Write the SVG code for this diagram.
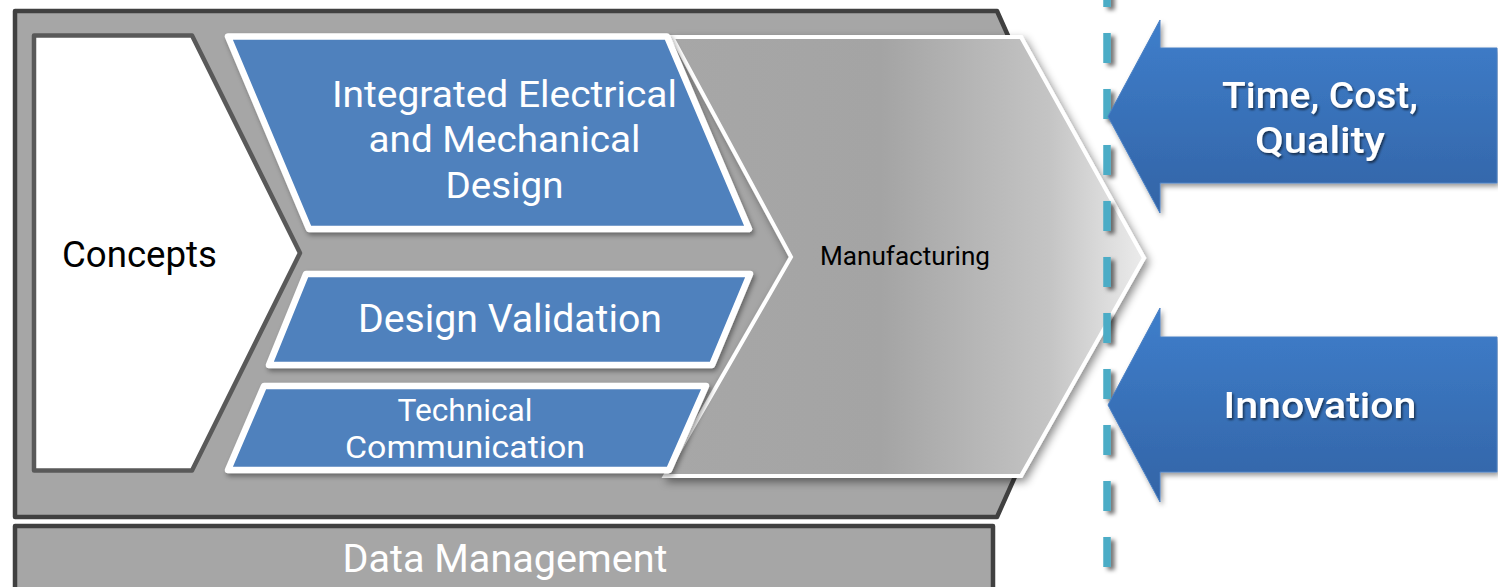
<svg xmlns="http://www.w3.org/2000/svg" width="1498" height="587" viewBox="0 0 1498 587">
  <defs>
    <linearGradient id="mfgGrad" x1="665" y1="0" x2="1145" y2="0" gradientUnits="userSpaceOnUse">
      <stop offset="0" stop-color="#a7a7a7"/>
      <stop offset="0.45" stop-color="#a4a4a4"/>
      <stop offset="0.8" stop-color="#c4c4c4"/>
      <stop offset="1" stop-color="#ececec"/>
    </linearGradient>
    <linearGradient id="arrowGrad" x1="0" y1="0" x2="0" y2="1">
      <stop offset="0" stop-color="#3e7ecb"/>
      <stop offset="1" stop-color="#3364a6"/>
    </linearGradient>
    <filter id="shadow" x="-10%" y="-10%" width="125%" height="130%">
      <feDropShadow dx="2" dy="3" stdDeviation="2.5" flood-color="#000" flood-opacity="0.4"/>
    </filter>
    <filter id="shadowBig" x="-10%" y="-10%" width="125%" height="130%">
      <feDropShadow dx="3" dy="4" stdDeviation="4" flood-color="#000" flood-opacity="0.45"/>
    </filter>
    <filter id="dashShadow" filterUnits="userSpaceOnUse" x="1090" y="-30" width="40" height="630">
      <feDropShadow dx="4" dy="3" stdDeviation="2" flood-color="#000" flood-opacity="0.55"/>
    </filter>
    <filter id="textShadow" x="-10%" y="-20%" width="120%" height="150%">
      <feDropShadow dx="1.5" dy="2" stdDeviation="1.2" flood-color="#000" flood-opacity="0.55"/>
    </filter>
    <style>
      .frame { fill: #a6a6a6; stroke: #404040; stroke-width: 4.5; stroke-linejoin: round; }
      .concept { fill: #ffffff; stroke: #595959; stroke-width: 4.5; stroke-linejoin: round; }
      .blue { fill: #4f81bd; stroke: #ffffff; stroke-width: 6.5; stroke-linejoin: round; filter: url(#shadow); }
      .mfg { fill: url(#mfgGrad); stroke: #ffffff; stroke-width: 4; stroke-linejoin: miter; filter: url(#shadowBig); }
      .arrow { fill: url(#arrowGrad); stroke: #4a80c4; stroke-width: 1; filter: url(#shadow); }
      .t { font-family: Roboto, "Open Sans", sans-serif; text-anchor: middle; }
      .w { fill: #ffffff; }
      .k { fill: #000000; }
      .bold { font-weight: 500; filter: url(#textShadow); }
    </style>
  </defs>

  <g id="frame">
    <polygon class="frame" points="15,11 997,11 1110,264 997,517 15,517"/>
  </g>

  <g id="data-management">
    <rect class="frame" x="15" y="526" width="978" height="80"/>
    <text class="t w" x="505" y="572" font-size="38" textLength="325" lengthAdjust="spacingAndGlyphs">Data Management</text>
  </g>

  <g id="concepts">
    <polygon class="concept" points="34,35.5 192,35.5 300,253 192,470.5 34,470.5"/>
    <text class="t k" x="139.5" y="267" font-size="37" textLength="155" lengthAdjust="spacingAndGlyphs">Concepts</text>
  </g>

  <g id="manufacturing">
    <polygon class="mfg" points="672,37 1021,37 1144,258 1021,476 665,476 791,257"/>
    <text class="t k" x="905" y="265" font-size="25" textLength="170" lengthAdjust="spacingAndGlyphs">Manufacturing</text>
  </g>

  <g id="integrated-design">
    <polygon class="blue" points="228,36.5 667,36.5 749,229 309,229"/>
    <text class="t w" x="504.5" y="107" font-size="37.5" textLength="345" lengthAdjust="spacingAndGlyphs">Integrated Electrical</text>
    <text class="t w" x="504.5" y="152" font-size="37.5" textLength="272" lengthAdjust="spacingAndGlyphs">and Mechanical</text>
    <text class="t w" x="504.5" y="198" font-size="37.5" textLength="118" lengthAdjust="spacingAndGlyphs">Design</text>
  </g>

  <g id="design-validation">
    <polygon class="blue" points="306,274 750,274 712,365 269,365"/>
    <text class="t w" x="510" y="332" font-size="38" textLength="304" lengthAdjust="spacingAndGlyphs">Design Validation</text>
  </g>

  <g id="technical-communication">
    <polygon class="blue" points="264,386 706,386 669,470 228,470"/>
    <text class="t w" x="465" y="421" font-size="31" textLength="135" lengthAdjust="spacingAndGlyphs">Technical</text>
    <text class="t w" x="465" y="458" font-size="31" textLength="240" lengthAdjust="spacingAndGlyphs">Communication</text>
  </g>

  <g id="connectors">
    <line x1="1107" y1="-23" x2="1107" y2="587" stroke="#4bacc6" stroke-width="7.5" stroke-dasharray="30 26" filter="url(#dashShadow)"/>
  </g>

  <g id="time-cost-quality">
    <polygon class="arrow" points="1108,116.5 1160,20 1160,48 1497,48 1497,183 1160,183 1160,213"/>
    <text class="t w bold" x="1320" y="108" font-size="37.5" textLength="196" lengthAdjust="spacingAndGlyphs">Time, Cost,</text>
    <text class="t w bold" x="1320" y="153" font-size="37.5" textLength="130" lengthAdjust="spacingAndGlyphs">Quality</text>
  </g>

  <g id="innovation">
    <polygon class="arrow" points="1108,405 1160,308 1160,337 1497,337 1497,472 1160,472 1160,502"/>
    <text class="t w bold" x="1320" y="418" font-size="37.5" textLength="193" lengthAdjust="spacingAndGlyphs">Innovation</text>
  </g>
</svg>
